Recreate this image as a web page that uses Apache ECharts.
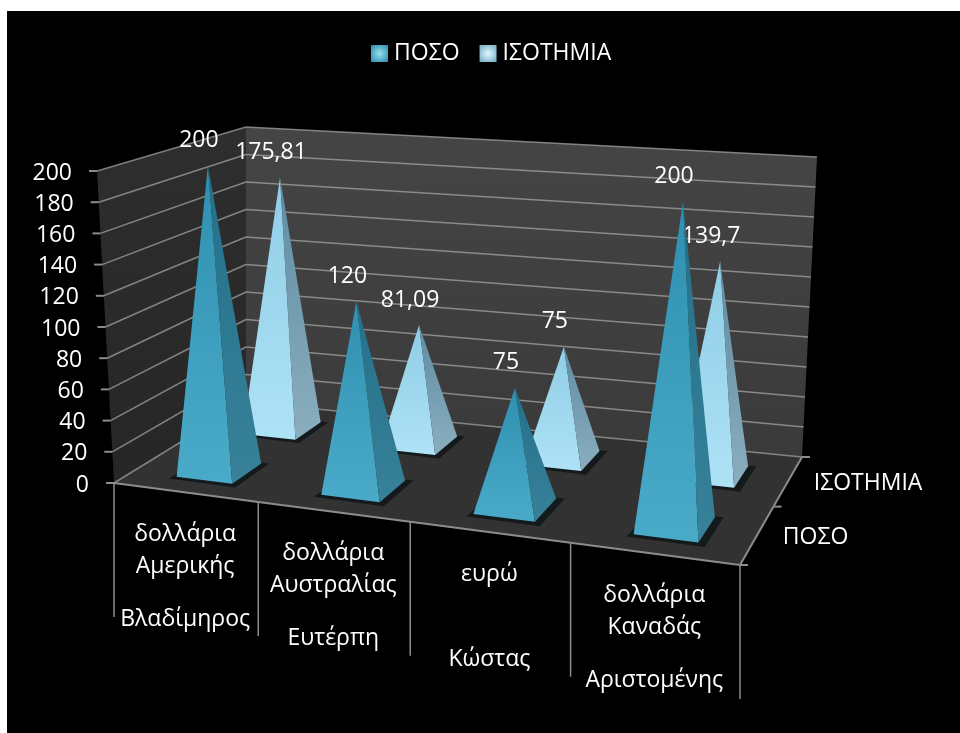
<!DOCTYPE html>
<html><head><meta charset="utf-8">
<style>html,body{margin:0;padding:0;background:#fff}#c{width:960px;height:733px}</style>
<script src="https://cdn.jsdelivr.net/npm/echarts@6/dist/echarts.min.js"></script>
</head><body><div id="c"></div>
<script>
const categories = ['δολλάρια Αμερικής','δολλάρια Αυστραλίας','ευρώ','δολλάρια Καναδάς'];
const categoryLines = [['δολλάρια','Αμερικής'],['δολλάρια','Αυστραλίας'],['ευρώ'],['δολλάρια','Καναδάς']];
const people = ['Βλαδίμηρος','Ευτέρπη','Κώστας','Αριστομένης'];
const seriesNames = ['ΠΟΣΟ','ΙΣΟΤΗΜΙΑ'];
const posoValues = [200,120,75,200];
const isothmiaValues = [175.81,81.09,75,139.7];
const yTicks = [0,20,40,60,80,100,120,140,160,180,200];

// Layout of the drawn box (screen corners of floor and ceiling)
const FLOOR = [[114,483],[740,565],[802,457],[246,402]];
const CEIL  = [[97,171],[756,227],[817,157],[246,127]];
const FORESHORTEN = 1.09;
const FONT = '23px "Open Sans"';
const LINE = '#8c8c8c', GRID = 'rgba(170,170,170,0.7)';

function homography(q){
  const [[x0,y0],[x1,y1],[x2,y2],[x3,y3]] = q;
  const dx1=x1-x2,dx2=x3-x2,dx3=x0-x1+x2-x3,dy1=y1-y2,dy2=y3-y2,dy3=y0-y1+y2-y3;
  const den=dx1*dy2-dx2*dy1;
  const g=(dx3*dy2-dx2*dy3)/den,h=(dx1*dy3-dx3*dy1)/den;
  const a=x1-x0+g*x1,b=x3-x0+h*x3,d=y1-y0+g*y1,e=y3-y0+h*y3;
  return (u,v)=>{const w=g*u+h*v+1;return [(a*u+b*v+x0)/w,(d*u+e*v+y0)/w];};
}
const floorH = homography(FLOOR), ceilH = homography(CEIL);
// u: category position, v: depth 0..1, value through the library's own scales
function project(params,api,cat,v,value){
  const c = api.coord([cat,value]), r = params.coordSys;
  const u0 = (c[0]-r.x)/r.width, t = (r.y+r.height-c[1])/r.height;
  const u = FORESHORTEN*u0/(1+(FORESHORTEN-1)*u0);
  const f = floorH(u,v), k = ceilH(u,v);
  return [f[0]+(k[0]-f[0])*t, f[1]+(k[1]-f[1])*t];
}
const poly = (points,fill,extra)=>({type:'polygon',shape:{points},style:Object.assign({fill},extra||{})});
const seg = (a,b,stroke,lineWidth)=>({type:'line',shape:{x1:a[0],y1:a[1],x2:b[0],y2:b[1]},style:{stroke,lineWidth}});
const txt = (text,x,y,align)=>({type:'text',style:{text,x,y,fill:'#fff',font:FONT,align:align||'center',verticalAlign:'middle'}});
const vgrad = (a,b)=>({type:'linear',x:0,y:0,x2:0,y2:1,colorStops:[{offset:0,color:a},{offset:1,color:b}]});

function renderWalls(params,api){
  const P=(c,v,h)=>project(params,api,c,v,h), top=yTicks[yTicks.length-1], n=categories.length;
  return {type:'group',children:[
    poly([P(0,0,0),P(0,1,0),P(0,1,top),P(0,0,top)],vgrad('#2e2e2e','#262626')),
    poly([P(0,1,0),P(n,1,0),P(n,1,top),P(0,1,top)],vgrad('#454545','#3a3a3a')),
    poly([P(0,0,0),P(n,0,0),P(n,1,0),P(0,1,0)],'#323232')
  ]};
}
function renderYTick(params,api){
  const P=(c,v,h)=>project(params,api,c,v,h), val=api.value(1), n=categories.length;
  const a=P(0,0,val),b=P(0,1,val),d=P(n,1,val);
  return {type:'group',children:[
    seg(a,b,GRID,1.5),seg(b,d,GRID,1.5),
    seg([a[0]-8,a[1]],a,LINE,2),
    txt(String(val),a[0]-25,a[1]+2,'right')
  ]};
}
function renderCatTick(params,api){
  const P=(c,v,h)=>project(params,api,c,v,h), i=api.value(0), n=categories.length, ch=[];
  const p=P(i,0,0);
  ch.push(seg(p,[p[0],p[1]+134],LINE,1.5));
  if(i<n){
    const q=P(i+1,0,0), mx=(p[0]+q[0])/2, my=(p[1]+q[1])/2;
    ch.push(seg(p,q,LINE,2));
    categoryLines[i].forEach((s,k)=>ch.push(txt(s,mx-1,my+42+k*32)));
    ch.push(txt(people[i],mx-1,my+127));
  }
  return {type:'group',children:ch};
}
function renderDepthTick(params,api){
  const P=(c,v,h)=>project(params,api,c,v,h), j=api.value(1), n=categories.length, m=seriesNames.length, ch=[];
  const p=P(n,j/m,0);
  ch.push(seg(p,[p[0]+8,p[1]],LINE,2));
  if(j<m){
    const q=P(n,(j+1)/m,0);
    ch.push(seg(p,q,LINE,2));
    ch.push(txt(seriesNames[j],(p[0]+q[0])/2+26,(p[1]+q[1])/2+2,'left'));
  }
  return {type:'group',children:ch};
}
const PAL=[
  {front:['#2f8fb0','#4aabc9'],side:['#24708a','#378299']},
  {front:['#8fcde6','#aee2f6'],side:['#5f8ca3','#8aaebf']}
];
function pyramid(depth){
  return function(params,api){
    const cat=api.value(0), val=api.value(1), m=seriesNames.length;
    const P=(c,v,h)=>project(params,api,c,v,h);
    const uc=cat+0.505, vc=(depth+0.5)/m, du=0.195, dv=0.11;
    const fl=P(uc-du,vc-dv-0.01,0), fm=P(uc+du,vc-dv-0.01,0), br=P(uc+du,vc+dv-0.01,0), t0=P(uc+0.03,vc,val), tip=[t0[0],t0[1]+2];
    const sh=[P(uc-du-0.03,vc-dv-0.035,0),P(uc+du+0.05,vc-dv-0.04,0),P(uc+du+0.05,vc+dv,0),P(uc-du,vc+dv-0.01,0)];
    const pal=PAL[depth];
    const lab=String(val).replace('.',',');
    return {type:'group',children:[
      poly(sh,'#141a1c'),
      poly([fl,fm,tip],vgrad(pal.front[0],pal.front[1])),
      poly([fm,br,tip],vgrad(pal.side[0],pal.side[1])),
      txt(lab,tip[0]-9,tip[1]-25)
    ]};
  };
}
const frame=(renderItem,data,z)=>({type:'custom',coordinateSystem:'cartesian2d',renderItem,data,z,silent:true,animation:false,clip:false,encode:{x:0,y:1}});
const toData=(values)=>values.map((v,i)=>[i,v]);
const rad=(a,b)=>({type:'radial',x:.5,y:.5,r:.65,colorStops:[{offset:0,color:a},{offset:1,color:b}]});

const chart=echarts.init(document.getElementById('c'),null,{width:960,height:733});
chart.setOption({
  backgroundColor:'#fff',
  animation:false,
  graphic:[{type:'rect',z:-100,shape:{x:7,y:11,width:953,height:722},style:{fill:'#000'}}],
  grid:{left:100,right:100,top:100,bottom:100,containLabel:false},
  xAxis:{type:'value',min:0,max:categories.length,show:false},
  yAxis:{type:'value',min:0,max:200,interval:20,show:false},
  legend:{left:366,top:37,itemWidth:17,itemHeight:17,itemGap:20,icon:'rect',selectedMode:false,
    textStyle:{color:'#fff',fontFamily:'Open Sans',fontSize:23,padding:[0,0,0,1]},
    data:[{name:seriesNames[0],itemStyle:{color:rad('#9be0ef','#2f8fb0')}},{name:seriesNames[1],itemStyle:{color:rad('#e2f6fc','#76aec6')}}]},
  series:[
    frame(renderWalls,[[0,0]],1),
    frame(renderYTick,yTicks.map(v=>[0,v]),2),
    frame(renderCatTick,[0,1,2,3,4].map(i=>[i,0]),3),
    frame(renderDepthTick,[0,1,2].map(j=>[0,j]),3),
    Object.assign(frame(pyramid(1),toData(isothmiaValues),5),{name:seriesNames[1],itemStyle:{color:'#a9dff4'}}),
    Object.assign(frame(pyramid(0),toData(posoValues),6),{name:seriesNames[0],itemStyle:{color:'#46a7c6'}})
  ]
});
</script></body></html>
